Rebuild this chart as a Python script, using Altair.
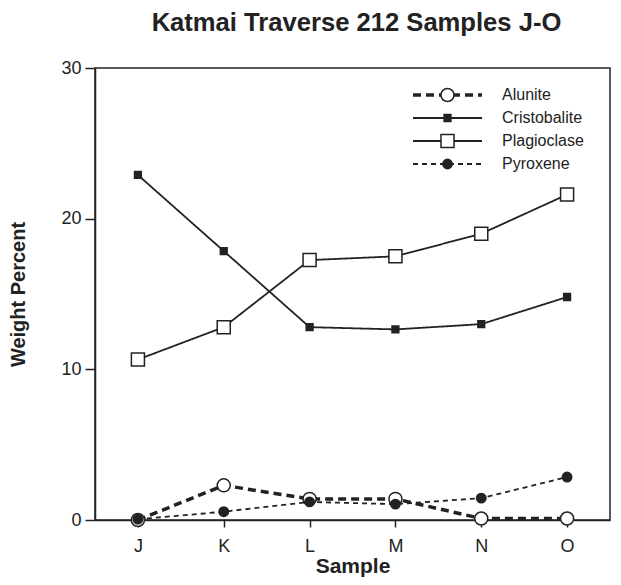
import altair as alt
import pandas as pd

samples = ["J", "K", "L", "M", "N", "O"]
series_names = ["Alunite", "Cristobalite", "Plagioclase", "Pyroxene"]
alunite = [0.0, 2.3, 1.4, 1.4, 0.1, 0.1]
cristobalite = [22.9, 17.85, 12.8, 12.65, 13.0, 14.8]
plagioclase = [10.65, 12.8, 17.25, 17.5, 19.0, 21.6]
pyroxene = [0.05, 0.55, 1.2, 1.05, 1.45, 2.85]
y_ticks = [0, 10, 20, 30]

values = [alunite, cristobalite, plagioclase, pyroxene]
rows = []
for name, vals in zip(series_names, values):
    for s, v in zip(samples, vals):
        rows.append({"sample": s, "series": name, "mineral": name, "value": v})
df = pd.DataFrame(rows)

INK = "#222222"
FONT = "Liberation Sans"

x = alt.X("sample:N", scale=alt.Scale(type="point", domain=samples, padding=0.5),
          axis=alt.Axis(title="Sample", labelAngle=0, tickSize=7, labelPadding=10,
                        labelFontSize=18, titleFontSize=21, titleFontWeight="bold",
                        titlePadding=0))
y = alt.Y("value:Q", scale=alt.Scale(domain=[0, 30], nice=False),
          axis=alt.Axis(title="Weight Percent", values=y_ticks, tickSize=10, labelPadding=4,
                        labelFontSize=18, titleFontSize=20, titleFontWeight="bold",
                        titlePadding=32))

line_legend = alt.Legend(
    orient="none", legendX=344.5, legendY=19, direction="vertical", columns=1,
    symbolType="M-5.75,0H5.75", symbolSize=144, symbolStrokeColor=INK,
    symbolStrokeWidth=alt.ExprRef("datum.value == 'Alunite' ? 3.5 : 1.8"),
    rowPadding=7, padding=0, labelOffset=46.5,
    labelFontSize=16, labelFont=FONT, labelColor=INK, title=None, zindex=0,
)
pt_legend = alt.Legend(
    orient="none", legendX=344.5, legendY=19, direction="vertical", columns=1,
    symbolSize=170, symbolStrokeWidth=1.5,
    clipHeight=16, rowPadding=7, padding=0, labelExpr="''",
    labelFontSize=16, labelFont=FONT, title=None, zindex=1,
)

lines = alt.Chart(df).mark_line(color=INK).encode(
    x=x, y=y,
    strokeDash=alt.StrokeDash("series:N", scale=alt.Scale(range=[[8, 5], [1, 0], [1, 0], [5, 4]]),
                              legend=line_legend),
    strokeWidth=alt.when(alt.datum.series == "Alunite").then(alt.value(3.5)).otherwise(alt.value(1.8)),
)

shapes = [
    "M1,0A1,1,0,1,1,-1,0A1,1,0,1,1,1,0Z",
    "M-0.52,-0.52H0.52V0.52H-0.52Z",
    "M-1,-1H1V1H-1Z",
    "M0.72,0A0.72,0.72,0,1,1,-0.72,0A0.72,0.72,0,1,1,0.72,0Z",
]
points = alt.Chart(df).mark_point(filled=True, size=170, strokeWidth=1.5, opacity=1).encode(
    x=x, y=y,
    shape=alt.Shape("mineral:N", scale=alt.Scale(range=shapes), legend=pt_legend),
    fill=alt.Fill("mineral:N", scale=alt.Scale(range=["white", INK, "white", INK]), legend=pt_legend),
    stroke=alt.Stroke("mineral:N", scale=alt.Scale(range=[INK, INK, INK, INK]), legend=pt_legend),
)

chart = alt.layer(lines, points).properties(
    width=515, height=452,
    autosize="none",
    padding={"left": 87, "top": 60, "right": 3, "bottom": 57},
    title=alt.TitleParams("Katmai Traverse 212 Samples J-O", fontSize=25.6, fontWeight="bold",
                          font=FONT, color=INK, anchor="middle", offset=22, dx=4),
).configure_axis(
    labelFont=FONT, titleFont=FONT, labelColor=INK, titleColor=INK,
    domainColor=INK, tickColor=INK, domainWidth=1.5, tickWidth=1.5, grid=False,
).configure_view(stroke=INK, strokeWidth=1.5)

chart.save("out.html", embed_options={"renderer": "svg", "actions": False})
